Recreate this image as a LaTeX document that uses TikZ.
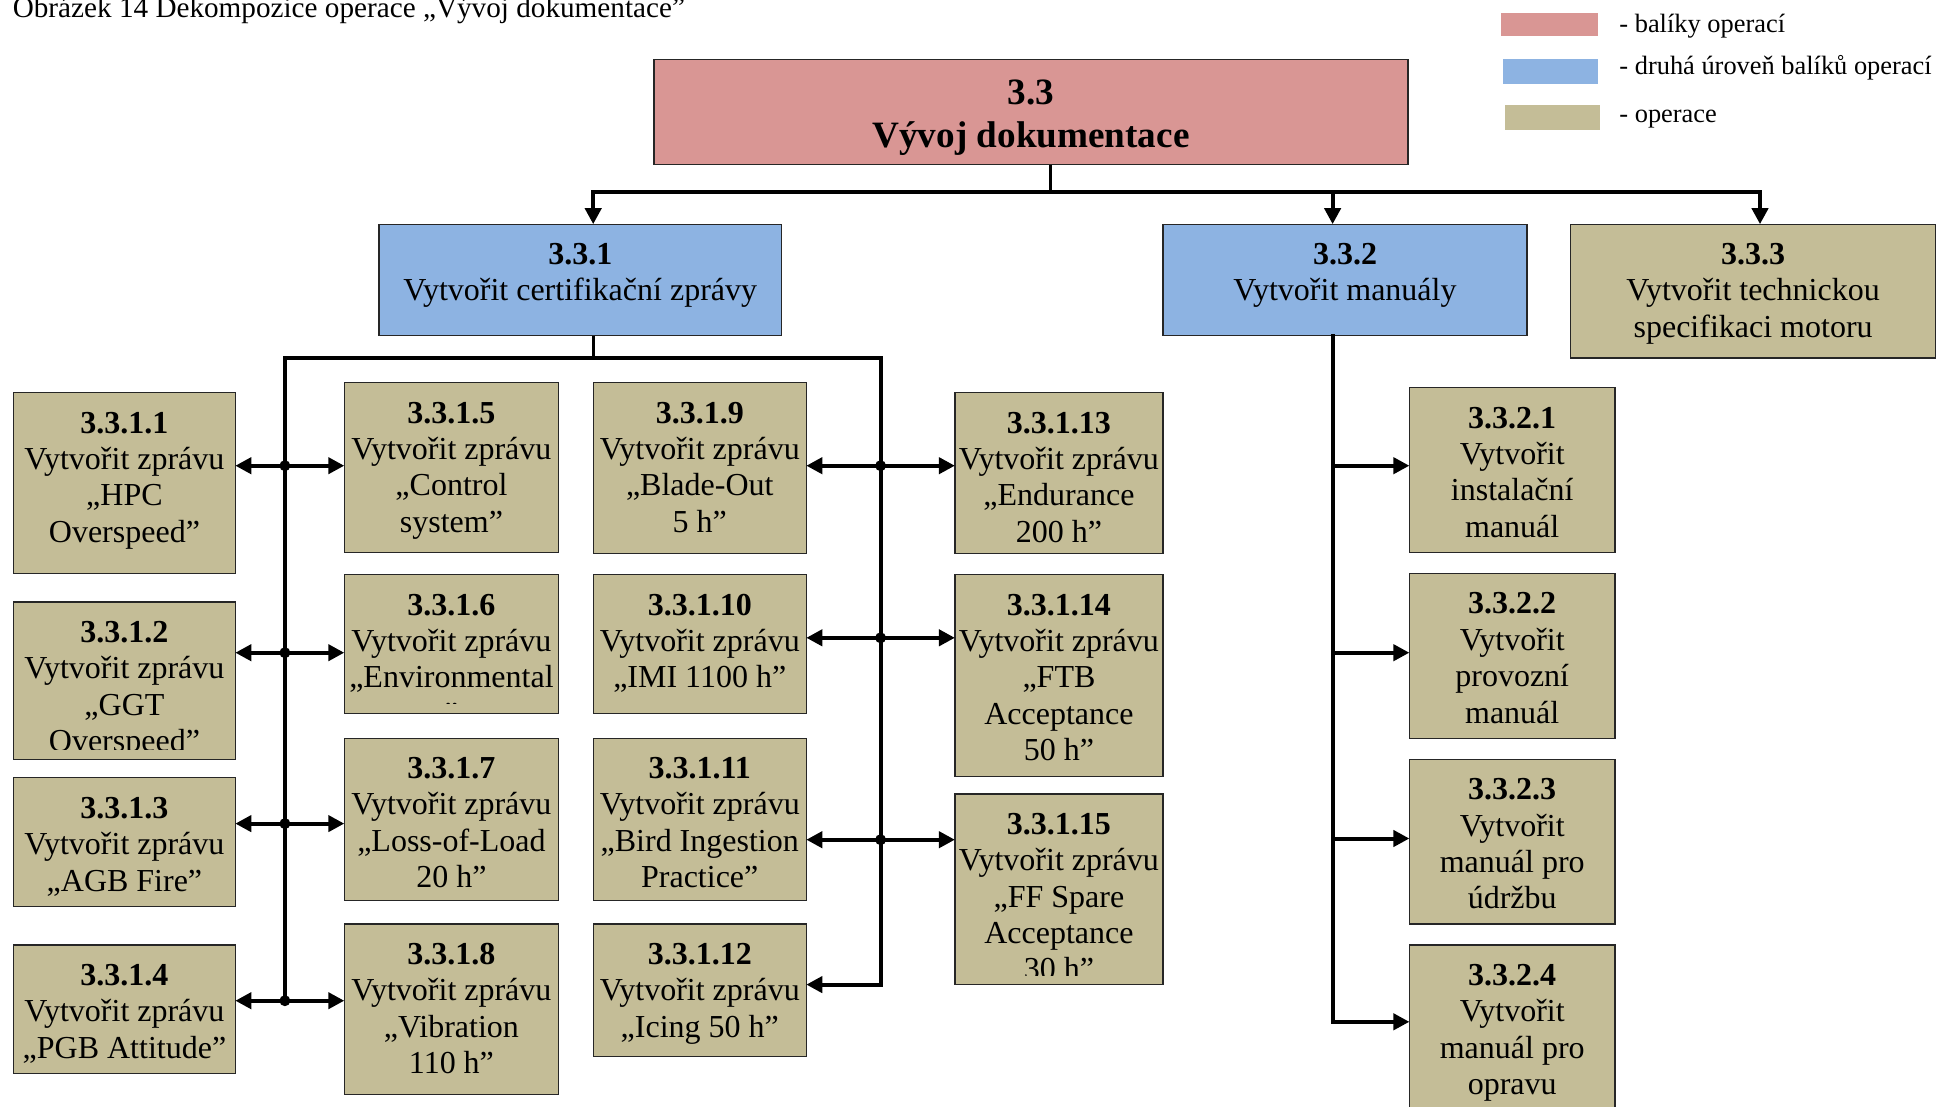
\documentclass[tikz,border=0pt]{standalone}
\usepackage{fontspec}
\setmainfont{Liberation Serif}
\usetikzlibrary{arrows.meta}

\definecolor{pkgred}{HTML}{D99694}
\definecolor{pkgblue}{HTML}{8DB3E2}
\definecolor{optan}{HTML}{C4BD97}

\tikzset{
  wbsbox/.style={draw=black!85, line width=0.6pt, inner sep=0pt, outer sep=0pt},
  wbstext/.style={inner sep=0pt, anchor=base, font=\fontsize{16}{18.2}\selectfont},
  swatch/.style={inner sep=0pt, outer sep=0pt},
  legendtext/.style={inner sep=0pt, anchor=base west, font=\fontsize{13.2}{16}\selectfont},
  bus/.style={line width=2pt, line cap=rect},
  arr/.style={line width=2pt},
  stem/.style={line width=1.3pt},
  junction/.style={circle, fill=black, inner sep=0pt, minimum size=5.5pt},
  >={Triangle[length=8pt,width=8pt]},
}

% box: name, fill, x1, y1, x2, y2, lines (text is clipped to the inner area)
\newcommand\wbs[7]{%
  \node[wbsbox, fill=#2, minimum width={(#5-#3)*0.5pt}, minimum height={(#6-#4)*0.5pt}]
    (#1) at ({(#3+#5)/2},{(#4+#6)/2}) {};
  \begin{scope}
    \clip (#3,#4) rectangle (#5,#6-9.5);
    \node[wbstext] (#1-t) at ({(#3+#5)/2},#4+40.4)
      {\begin{tabular}[t]{@{}c@{}}#7\end{tabular}};
  \end{scope}
}

\begin{document}
\begin{tikzpicture}[x=0.5pt, y=-0.5pt]
\useasboundingbox (0,0) rectangle (1942,1107);

% caption
\node[anchor=base west, inner sep=0pt, font=\fontsize{14.6}{17}\selectfont] (caption)
  at (12.4,17.5) {Obrázek 14 Dekompozice operace „Vývoj dokumentace”};

% legend
\node[swatch, fill=pkgred,  minimum width=48.5pt, minimum height=11.5pt] (lg1) at (1549.5,24.2) {};
\node[swatch, fill=pkgblue, minimum width=47.5pt, minimum height=12.3pt] (lg2) at (1550.5,71.3) {};
\node[swatch, fill=optan,   minimum width=47.5pt, minimum height=12.3pt] (lg3) at (1552.5,117.3) {};
\node[legendtext] (lt1) at (1619,33) {- balíky operací};
\node[legendtext] (lt2) at (1619,75) {- druhá úroveň balíků operací};
\node[legendtext] (lt3) at (1619,123) {- operace};

% top package
\node[wbsbox, fill=pkgred, minimum width={(1408-654)*0.5pt}, minimum height={(164.7-59.4)*0.5pt}]
  (root) at (1031,112.05) {};
\node[inner sep=0pt, anchor=base, font=\fontsize{18.6}{21.7}\selectfont\bfseries] (root-t)
  at (1031,104.2) {\begin{tabular}[t]{@{}c@{}}3.3\\Vývoj dokumentace\end{tabular}};

% second level
\wbs{c331}{pkgblue}{379}{224.2}{781.5}{335.6}{\textbf{3.3.1}\\Vytvořit certifikační zprávy}
\wbs{c332}{pkgblue}{1163}{224.2}{1527}{335.6}{\textbf{3.3.2}\\Vytvořit manuály}
\wbs{c333}{optan}{1570.4}{224.2}{1935.8}{357.9}{\textbf{3.3.3}\\Vytvořit technickou\\specifikaci motoru}

% reports, column 1
\wbs{a1}{optan}{13.6}{392.6}{235.3}{573.4}{\textbf{3.3.1.1}\\Vytvořit zprávu\\„HPC\\Overspeed”}
\wbs{a2}{optan}{13.6}{601.9}{235.3}{759.2}{\textbf{3.3.1.2}\\Vytvořit zprávu\\„GGT\\Overspeed”}
\wbs{a3}{optan}{13.6}{777.8}{235.3}{906.6}{\textbf{3.3.1.3}\\Vytvořit zprávu\\„AGB Fire”}
\wbs{a4}{optan}{13.6}{945.0}{235.3}{1073.8}{\textbf{3.3.1.4}\\Vytvořit zprávu\\„PGB Attitude”}
% column 2
\wbs{b5}{optan}{344.3}{382.7}{558.6}{552.4}{\textbf{3.3.1.5}\\Vytvořit zprávu\\„Control\\system”}
\wbs{b6}{optan}{344.3}{574.7}{558.6}{713.4}{\textbf{3.3.1.6}\\Vytvořit zprávu\\„Environmental\\”}
\wbs{b7}{optan}{344.3}{738.1}{558.6}{900.4}{\textbf{3.3.1.7}\\Vytvořit zprávu\\„Loss-of-Load\\20 h”}
\wbs{b8}{optan}{344.3}{923.9}{558.6}{1094.8}{\textbf{3.3.1.8}\\Vytvořit zprávu\\„Vibration\\110 h”}
% column 3
\wbs{c9}{optan}{593.2}{382.7}{806.3}{553.6}{\textbf{3.3.1.9}\\Vytvořit zprávu\\„Blade-Out\\5 h”}
\wbs{c10}{optan}{593.2}{574.7}{806.3}{713.4}{\textbf{3.3.1.10}\\Vytvořit zprávu\\„IMI 1100 h”}
\wbs{c11}{optan}{593.2}{738.1}{806.3}{900.4}{\textbf{3.3.1.11}\\Vytvořit zprávu\\„Bird Ingestion\\Practice”}
\wbs{c12}{optan}{593.2}{923.9}{806.3}{1056.4}{\textbf{3.3.1.12}\\Vytvořit zprávu\\„Icing 50 h”}
% column 4
\wbs{d13}{optan}{954.9}{392.6}{1163.0}{553.6}{\textbf{3.3.1.13}\\Vytvořit zprávu\\„Endurance\\200 h”}
\wbs{d14}{optan}{954.9}{574.7}{1163.0}{776.5}{\textbf{3.3.1.14}\\Vytvořit zprávu\\„FTB\\Acceptance\\50 h”}
\wbs{d15}{optan}{954.9}{793.9}{1163.0}{984.6}{\textbf{3.3.1.15}\\Vytvořit zprávu\\„FF Spare\\Acceptance\\30 h”}
% manuals
\wbs{e1}{optan}{1409.4}{387.6}{1615.0}{552.4}{\textbf{3.3.2.1}\\Vytvořit\\instalační\\manuál}
\wbs{e2}{optan}{1409.4}{573.4}{1615.0}{738.1}{\textbf{3.3.2.2}\\Vytvořit\\provozní\\manuál}
\wbs{e3}{optan}{1409.4}{759.2}{1615.0}{923.9}{\textbf{3.3.2.3}\\Vytvořit\\manuál pro\\údržbu}
\wbs{e4}{optan}{1409.4}{945.0}{1615.0}{1125}{\textbf{3.3.2.4}\\Vytvořit\\manuál pro\\opravu}

% top bus
\coordinate (rj) at (1050.2,192);
\coordinate (j1) at (593.2,192);
\coordinate (j2) at (1332.6,192);
\coordinate (j3) at (1760,192);
\draw[stem] (root.south -| rj) -- (rj);
\draw[bus] (j1) -- (j3);
\draw[arr,->] (j1) -- (j1 |- c331.north);
\draw[arr,->] (j2) -- (j2 |- c332.north);
\draw[arr,->] (j3) -- (j3 |- c333.north);

% report bus
\coordinate (k0) at (593.2,357.9);
\coordinate (kl) at (284.9,357.9);
\coordinate (kr) at (880.6,357.9);
\coordinate (dl1) at (284.9,465.7);
\coordinate (dl2) at (284.9,652.7);
\coordinate (dl3) at (284.9,823.6);
\coordinate (dl4) at (284.9,1000.7);
\coordinate (dr1) at (880.6,465.7);
\coordinate (dr2) at (880.6,637.8);
\coordinate (dr3) at (880.6,839.7);
\coordinate (dr4) at (880.6,984.6);
\draw[stem] (c331.south -| k0) -- (k0);
\draw[bus] (dl4) -- (kl) -- (kr) -- (dr4);

\draw[arr,<->] (dl1 -| a1.east) -- (dl1 -| b5.west);
\draw[arr,<->] (dl2 -| a2.east) -- (dl2 -| b6.west);
\draw[arr,<->] (dl3 -| a3.east) -- (dl3 -| b7.west);
\draw[arr,<->] (dl4 -| a4.east) -- (dl4 -| b8.west);
\draw[arr,<->] (dr1 -| c9.east) -- (dr1 -| d13.west);
\draw[arr,<->] (dr2 -| c10.east) -- (dr2 -| d14.west);
\draw[arr,<->] (dr3 -| c11.east) -- (dr3 -| d15.west);
\draw[arr,->] (dr4) -- (dr4 -| c12.east);

\node[junction] (n1) at (dl1) {};
\node[junction] (n2) at (dl2) {};
\node[junction] (n3) at (dl3) {};
\node[junction] (n4) at (dl4) {};
\node[junction] (n5) at (dr1) {};
\node[junction] (n6) at (dr2) {};
\node[junction] (n7) at (dr3) {};

% manuals bus
\coordinate (m1) at (1332.6,465.7);
\coordinate (m2) at (1332.6,652.7);
\coordinate (m3) at (1332.6,838.5);
\coordinate (m4) at (1332.6,1021.8);
\draw[bus] (c332.south -| m4) -- (m4);
\draw[arr,->] (m1) -- (m1 -| e1.west);
\draw[arr,->] (m2) -- (m2 -| e2.west);
\draw[arr,->] (m3) -- (m3 -| e3.west);
\draw[arr,->] (m4) -- (m4 -| e4.west);
\end{tikzpicture}
\end{document}
